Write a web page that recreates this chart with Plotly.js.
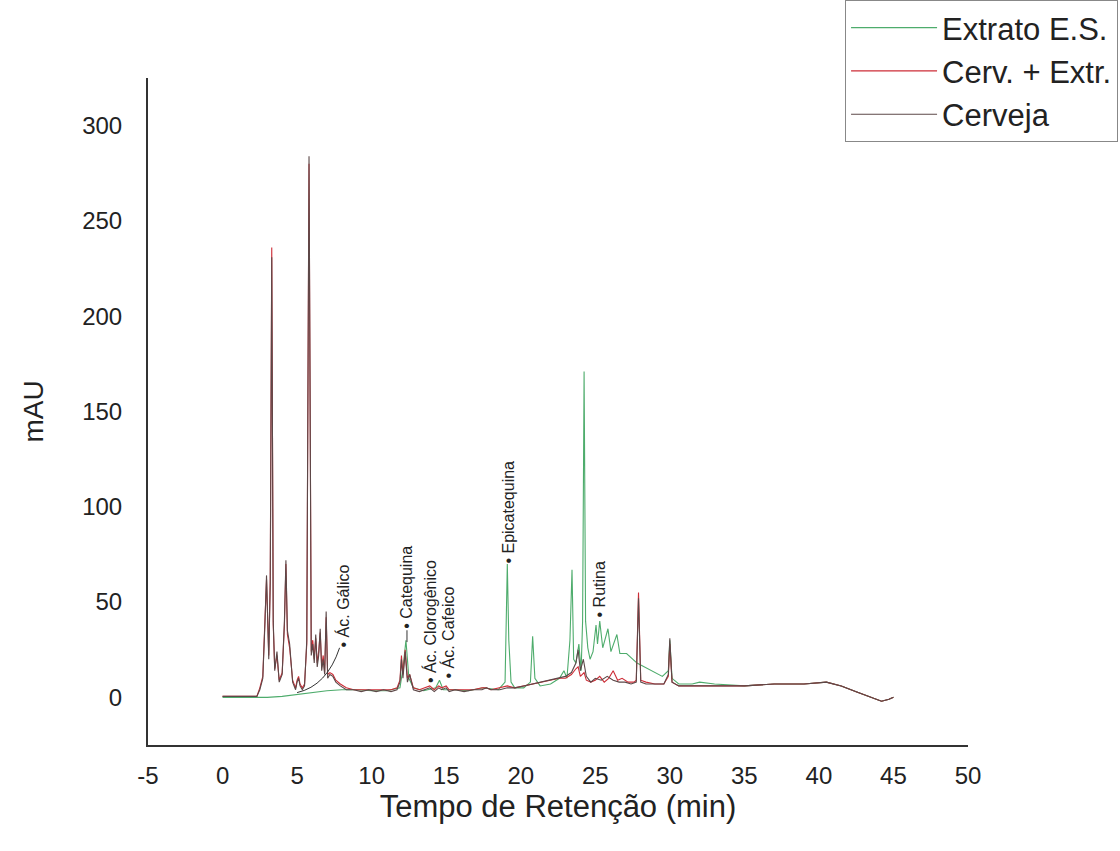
<!DOCTYPE html>
<html>
<head>
<meta charset="utf-8">
<script src="https://cdn.plot.ly/plotly-3.0.1.min.js"></script>
<style>html,body{margin:0;padding:0;background:#fff;}#chart{width:1120px;height:851px;}</style>
</head>
<body>
<div id="chart"></div>
<script>
// Retention time (min) and absorbance (mAU)
var cervejaT = [0, 2.3, 2.5, 2.7, 2.85, 2.95, 3.1, 3.2, 3.3, 3.4, 3.5, 3.65, 3.8, 4.0, 4.15, 4.25, 4.35, 4.5, 4.7, 4.9, 5.0, 5.1, 5.2, 5.35, 5.5, 5.65, 5.8, 5.95, 6.05, 6.15, 6.25, 6.35, 6.45, 6.55, 6.65, 6.75, 6.85, 6.95, 7.05, 7.2, 7.4, 7.6, 7.9, 8.3, 8.8, 9.3, 9.8, 10.3, 10.8, 11.3, 11.7, 11.9, 12.0, 12.1, 12.25, 12.4, 12.55, 12.8, 13.2, 13.6, 13.9, 14.2, 14.5, 14.7, 15.0, 15.2, 15.6, 16.2, 16.8, 17.4, 17.7, 18.0, 18.6, 19.1, 19.6, 20.2, 20.8, 21.4, 22.0, 22.6, 23.0, 23.4, 23.7, 23.85, 24.0, 24.2, 24.4, 24.7, 25.0, 25.4, 25.8, 26.2, 26.6, 27.0, 27.4, 27.75, 27.9, 28.05, 28.4, 29.0, 29.6, 29.9, 30.0, 30.15, 30.6, 31.5, 33, 35, 37, 39, 40.5, 41.5, 42.5, 43.5, 44.2, 44.7, 45.0];
var cervejaY = [0.5, 0.5, 4, 10, 40, 64, 20, 60, 231, 40, 14, 24, 8, 12, 40, 72, 35, 28, 8, 4, 8, 10, 6, 4, 6, 30, 284, 22, 28, 18, 33, 16, 22, 36, 14, 20, 12, 45, 10, 12, 11, 8, 6, 4, 4, 3, 4, 3, 4, 3, 4, 8, 20, 10, 24, 8, 12, 4, 3, 4, 5, 3, 5, 4, 5, 3, 4, 3, 4, 4, 5, 4, 4, 5, 5, 6, 7, 8, 9, 10, 11, 13, 18, 25, 14, 20, 11, 8, 10, 9, 11, 9, 8, 8, 7, 8, 52, 8, 7, 7, 7, 12, 31, 8, 6, 6, 6, 6, 7, 7, 8, 6, 3, 0, -2, -1, 0];

var cervExtrT = [0, 2.3, 2.5, 2.7, 2.85, 2.95, 3.1, 3.2, 3.3, 3.4, 3.5, 3.65, 3.8, 4.0, 4.15, 4.25, 4.35, 4.5, 4.7, 4.9, 5.0, 5.1, 5.2, 5.35, 5.5, 5.65, 5.8, 5.95, 6.05, 6.15, 6.25, 6.35, 6.45, 6.55, 6.65, 6.75, 6.85, 6.95, 7.05, 7.2, 7.4, 7.6, 7.9, 8.3, 8.8, 9.3, 9.8, 10.3, 10.8, 11.3, 11.7, 11.9, 12.0, 12.1, 12.25, 12.4, 12.55, 12.8, 13.2, 13.6, 13.9, 14.2, 14.5, 14.7, 15.0, 15.2, 15.6, 16.2, 16.8, 17.4, 17.7, 18.0, 18.6, 19.1, 19.6, 20.2, 20.8, 21.4, 22.0, 22.6, 23.0, 23.4, 23.7, 23.85, 24.0, 24.25, 24.4, 24.7, 25.0, 25.3, 25.6, 25.9, 26.2, 26.5, 26.8, 27.2, 27.6, 27.75, 27.9, 28.05, 28.4, 29.0, 29.6, 29.9, 30.0, 30.15, 30.6, 31.5, 33, 35, 37, 39, 40.5, 41.5, 42.5, 43.5, 44.2, 44.7, 45.0];
var cervExtrY = [0.5, 0.5, 5, 11, 42, 62, 22, 62, 236, 38, 15, 22, 9, 13, 38, 70, 33, 26, 9, 5, 9, 11, 7, 5, 7, 28, 280, 24, 30, 20, 31, 18, 24, 34, 16, 22, 13, 42, 12, 13, 12, 9, 7, 5, 4, 4, 4, 4, 4, 4, 5, 9, 22, 12, 25, 10, 12, 5, 4, 5, 6, 4, 6, 5, 6, 4, 4, 4, 4, 5, 5, 4, 5, 6, 5, 6, 7, 8, 9, 10, 10, 12, 15, 16, 11, 13, 9, 8, 9, 11, 8, 10, 14, 9, 10, 8, 8, 9, 55, 9, 8, 7, 7, 11, 28, 8, 6, 6, 6, 6, 7, 7, 8, 6, 3, 0, -2, -1, 0];

var extratoT = [0, 3, 4, 5, 6, 7, 8, 9, 10, 11, 11.9, 12.1, 12.3, 12.5, 12.8, 13.5, 14.3, 14.55, 14.8, 15.5, 16.5, 17.5, 18.5, 18.95, 19.1, 19.2, 19.35, 19.6, 20.2, 20.65, 20.8, 20.95, 21.3, 22.0, 22.6, 22.9, 23.1, 23.3, 23.44, 23.55, 23.7, 23.9, 24.05, 24.15, 24.25, 24.35, 24.5, 24.65, 24.85, 25.05, 25.15, 25.3, 25.5, 25.85, 26.05, 26.45, 26.65, 27.1, 27.8, 28.5, 29.0, 29.5, 29.9, 30.0, 30.15, 30.6, 31.5, 32, 33, 35, 37, 39, 40.5, 41.5, 42.5, 43.5, 44.2, 44.7, 45];
var extratoY = [0, 0, 0.5, 1.5, 2.5, 3.5, 4, 4, 3.5, 3.5, 5, 15, 30, 10, 5, 3.5, 5, 9, 4, 4, 3.5, 5, 4, 8, 70, 30, 8, 5, 5, 8, 32, 10, 6, 7, 10, 14, 10, 30, 67, 20, 18, 28, 14, 40, 171, 40, 26, 20, 24, 38, 28, 40, 26, 36, 24, 33, 23, 23, 18, 15, 13, 11, 14, 30, 10, 7, 7, 8, 7, 6, 7, 7, 8, 6, 3, 0, -2, -1, 0];

var seriesNames = ["Extrato E.S.", "Cerv. + Extr.", "Cerveja"];
var xTicks = [-5, 0, 5, 10, 15, 20, 25, 30, 35, 40, 45, 50];
var yTicks = [0, 50, 100, 150, 200, 250, 300];

// Compound labels: name, retention time of the peak, label centre height
var compoundNames = ["• Ác. Gálico", "• Catequina", "• Ác. Clorogênico", "• Ác. Cafeico", "• Epicatequina", "• Rutina"];
var compoundT = [8.05, 12.37, 13.91, 15.12, 19.15, 25.3];
var compoundLabelY = [48, 58, 40, 34, 97, 56.5];

var FONT = "Liberation Sans, Arial, Helvetica, sans-serif";

var traces = [
  {x: extratoT, y: extratoY, name: seriesNames[0], type: "scatter", mode: "lines",
   line: {color: "rgb(78,172,108)", width: 1.1}, legendrank: 1},
  {x: cervExtrT, y: cervExtrY, name: seriesNames[1], type: "scatter", mode: "lines",
   line: {color: "rgb(205,45,55)", width: 1.1}, legendrank: 2},
  {x: cervejaT, y: cervejaY, name: seriesNames[2], type: "scatter", mode: "lines",
   line: {color: "rgb(92,72,72)", width: 1.1}, legendrank: 3}
];

var annotations = compoundNames.map(function (n, i) {
  return {x: compoundT[i], y: compoundLabelY[i], xref: "x", yref: "y", text: n,
    showarrow: false, textangle: -90, xanchor: "center", yanchor: "middle",
    font: {family: FONT, size: 16, color: "#222"}};
});
// short leader below the Catequina label
annotations.push({x: 12.37, y: 29, xref: "x", yref: "y", ax: 12.37, ay: 36, axref: "x", ayref: "y",
  text: "", showarrow: true, arrowhead: 0, arrowwidth: 1, arrowcolor: "#333"});

var layout = {
  width: 1120, height: 851,
  margin: {l: 148, r: 152, t: 78, b: 106, autoexpand: false},
  paper_bgcolor: "#fff", plot_bgcolor: "#fff",
  font: {family: FONT, color: "#222"},
  showlegend: true,
  legend: {x: 1.183, xanchor: "right", y: 1.117, yanchor: "top",
    bordercolor: "#888", borderwidth: 1, bgcolor: "#fff",
    font: {family: FONT, size: 31, color: "#222"}, itemwidth: 86, tracegroupgap: 0},
  xaxis: {range: [-5, 50], tickvals: xTicks, ticktext: xTicks.map(String),
    showgrid: false, zeroline: false, showline: true, linecolor: "#333", linewidth: 2,
    ticks: "", ticklabelstandoff: 8, tickfont: {family: FONT, size: 24, color: "#222"},
    title: {text: "Tempo de Retenção (min)", font: {family: FONT, size: 31, color: "#222"}, standoff: 0}},
  yaxis: {range: [-25, 325], tickvals: yTicks, ticktext: yTicks.map(String),
    showgrid: false, zeroline: false, showline: true, linecolor: "#333", linewidth: 2,
    ticks: "", ticklabelstandoff: 19, tickfont: {family: FONT, size: 24, color: "#222"},
    title: {text: "mAU", font: {family: FONT, size: 28, color: "#222"}, standoff: 30}},
  shapes: [
    // curved leader from the Gálico label down to the baseline
    {type: "path", xref: "x", yref: "y", path: "M 7.85,26 Q 7.0,6 5.0,2.5",
     line: {color: "#333", width: 1}}
  ],
  annotations: annotations
};

Plotly.newPlot("chart", traces, layout, {displayModeBar: false, staticPlot: true});
</script>
</body>
</html>
